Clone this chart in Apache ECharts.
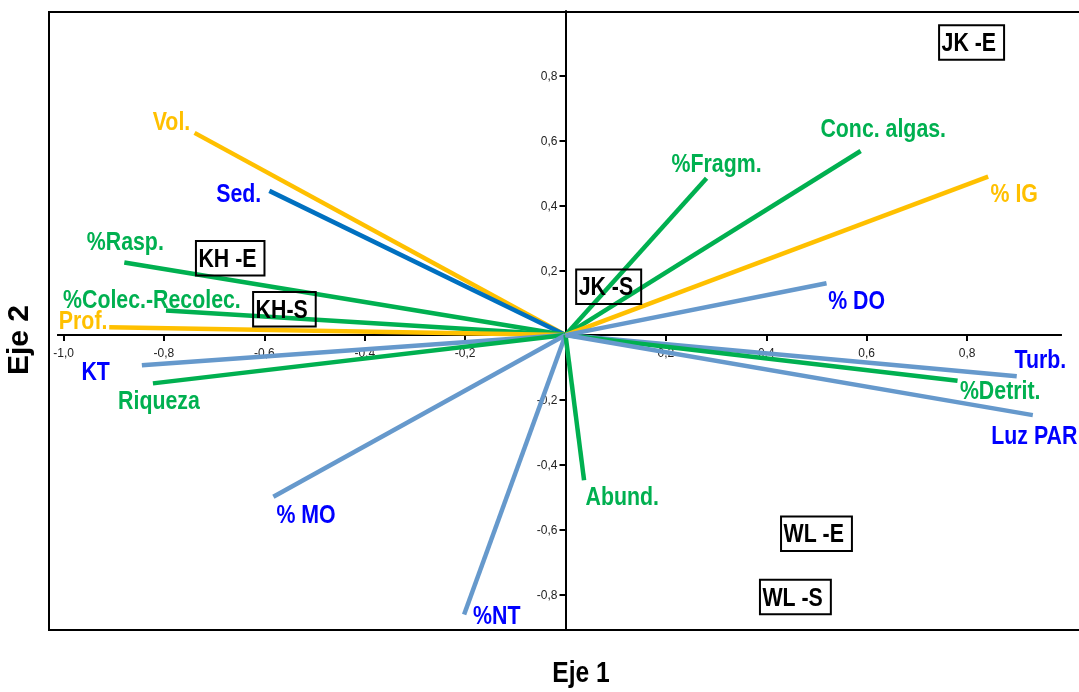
<!DOCTYPE html>
<html><head><meta charset="utf-8">
<script src="https://cdn.jsdelivr.net/npm/echarts@6/dist/echarts.min.js"></script>
<style>html,body{margin:0;padding:0;background:#fff}#c{width:1079px;height:692px}</style>
</head><body><div id="c"></div>
<script>
// ---- data ----
const varNames = ['Vol.','Sed.','%Rasp.','%Colec.-Recolec.','Prof.','KT','Riqueza','% MO','%NT','Abund.','Turb.','%Detrit.','Luz PAR','%Fragm.','Conc. algas.','% IG','% DO'];
const vecX = [-0.739,-0.590,-0.879,-0.796,-0.909,-0.844,-0.822,-0.582,-0.202,0.037,0.899,0.781,0.931,0.281,0.588,0.842,0.520];
const vecY = [0.624,0.445,0.224,0.076,0.024,-0.093,-0.149,-0.499,-0.862,-0.448,-0.127,-0.141,-0.247,0.484,0.568,0.489,0.160];
const varGroup = ['Y','B','G','G','Y','L','G','L','L','G','L','G','L','G','G','Y','L'];
const labX = [-0.785,-0.651,-0.877,-0.824,-0.961,-0.936,-0.810,-0.517,-0.137,0.113,0.946,0.866,0.934,0.301,0.633,0.894,0.580];
const labY = [0.654,0.432,0.285,0.105,0.040,-0.118,-0.206,-0.558,-0.868,-0.502,-0.080,-0.174,-0.314,0.525,0.632,0.434,0.103];
const siteNames = ['KH -E','KH-S','JK -S','JK -E','WL -E','WL -S'];
const siteX = [-0.668,-0.560,0.086,0.809,0.500,0.458];
const siteY = [0.237,0.080,0.149,0.903,-0.613,-0.808];
const xTicks = [-1.0,-0.8,-0.6,-0.4,-0.2,0.2,0.4,0.6,0.8];
const yTicks = [-0.8,-0.6,-0.4,-0.2,0.2,0.4,0.6,0.8];
const xAxisLineExtent = [-1.013, 0.989];

// ---- styles ----
const lineColor = {Y:'#FFC000', B:'#0070C0', G:'#00B050', L:'#6699CC'};
const textColor = {Y:'#FFC000', B:'#0000FF', G:'#00B050', L:'#0000FF'};
const SANS = '"Liberation Sans", Arial, Helvetica, sans-serif';
const LABEL_FONT = 'bold 26px ' + SANS;
const NARROW_SCALE = 0.82;
const BOX_PAD_L = 2.5, BOX_PAD_R = 8, BOX_H = 34.5;
const fmt = v => (Math.round(v*10)/10).toFixed(1).replace('.', ',');
const measureCtx = document.createElement('canvas').getContext('2d');
function textWidth(t, font) { measureCtx.font = font; return measureCtx.measureText(t).width; }

const chart = echarts.init(document.getElementById('c'));
chart.setOption({
  animation: false,
  grid: {left: 48, top: 11, right: 0, bottom: 62, show: false},
  xAxis: {
    type: 'value', min: -1.031, max: 1.023,
    axisLine: {show: false, onZero: true},
    axisTick: {show: true, length: 6, lineStyle: {color: '#000', width: 2}, customValues: xTicks},
    axisLabel: {show: false},
    splitLine: {show: false}
  },
  yAxis: {
    type: 'value', min: -0.91, max: 1.0,
    axisLine: {show: true, onZero: true, lineStyle: {color: '#000', width: 2}},
    axisTick: {show: true, length: 6, lineStyle: {color: '#000', width: 2}, customValues: yTicks},
    axisLabel: {show: false},
    splitLine: {show: false}
  },
  graphic: [
    {type: 'polyline', silent: true, shape: {points: [[1090, 12], [49, 12], [49, 630], [1090, 630]]}, style: {stroke: '#000', lineWidth: 2, fill: null}},
    {type: 'text', x: 581, y: 674, scaleX: NARROW_SCALE, style: {text: 'Eje 1', font: 'bold 30px ' + SANS, fill: '#000', align: 'center', verticalAlign: 'middle'}},
    {type: 'text', x: 20, y: 340, rotation: Math.PI/2, style: {text: 'Eje 2', font: 'bold 30px ' + SANS, fill: '#000', align: 'center', verticalAlign: 'middle'}}
  ],
  series: [
    { // x axis line drawn at y = 0
      type: 'lines', coordinateSystem: 'cartesian2d', silent: true, z: 2,
      data: [{coords: [[xAxisLineExtent[0], 0], [xAxisLineExtent[1], 0]], lineStyle: {color: '#000', width: 2, opacity: 1}}]
    },
    { // x tick labels
      type: 'custom', coordinateSystem: 'cartesian2d', silent: true, z: 2,
      data: xTicks.map(v => [v, 0]),
      renderItem: (params, api) => {
        const p = api.coord([api.value(0), api.value(1)]);
        return {type: 'text', x: p[0], y: p[1] + 19, style: {text: fmt(api.value(0)), font: '12px ' + SANS, fill: '#222', align: 'center', verticalAlign: 'middle'}};
      }
    },
    { // y tick labels
      type: 'custom', coordinateSystem: 'cartesian2d', silent: true, z: 2,
      data: yTicks.map(v => [0, v]),
      renderItem: (params, api) => {
        const p = api.coord([api.value(0), api.value(1)]);
        return {type: 'text', x: p[0] - 8, y: p[1] + 1, style: {text: fmt(api.value(1)), font: '12px ' + SANS, fill: '#222', align: 'right', verticalAlign: 'middle'}};
      }
    },
    { // vectors
      type: 'lines', coordinateSystem: 'cartesian2d', silent: true, z: 3,
      lineStyle: {width: 4.5, opacity: 1, cap: 'butt'},
      data: varNames.map((n, i) => ({coords: [[0, 0], [vecX[i], vecY[i]]], lineStyle: {color: lineColor[varGroup[i]]}}))
    },
    { // variable labels
      type: 'custom', coordinateSystem: 'cartesian2d', silent: true, z: 4,
      data: varNames.map((n, i) => [labX[i], labY[i], i]),
      renderItem: (params, api) => {
        const i = api.value(2);
        const p = api.coord([api.value(0), api.value(1)]);
        return {type: 'text', x: p[0], y: p[1], scaleX: NARROW_SCALE,
          style: {text: varNames[i], font: LABEL_FONT, fill: textColor[varGroup[i]], align: 'center', verticalAlign: 'middle'}};
      }
    },
    { // site boxes
      type: 'custom', coordinateSystem: 'cartesian2d', silent: true, z: 5,
      data: siteNames.map((n, i) => [siteX[i], siteY[i], i]),
      renderItem: (params, api) => {
        const i = api.value(2);
        const p = api.coord([api.value(0), api.value(1)]);
        const tw = textWidth(siteNames[i], LABEL_FONT) * NARROW_SCALE;
        const w = tw + BOX_PAD_L + BOX_PAD_R;
        return {type: 'group', x: p[0], y: p[1], children: [
          {type: 'rect', shape: {x: -w/2, y: -BOX_H/2, width: w, height: BOX_H}, style: {fill: 'none', stroke: '#000', lineWidth: 2}},
          {type: 'text', x: -w/2 + BOX_PAD_L, y: 1.4, scaleX: NARROW_SCALE,
            style: {text: siteNames[i], font: LABEL_FONT, fill: '#000', align: 'left', verticalAlign: 'middle'}}
        ]};
      }
    }
  ]
});
</script></body></html>
